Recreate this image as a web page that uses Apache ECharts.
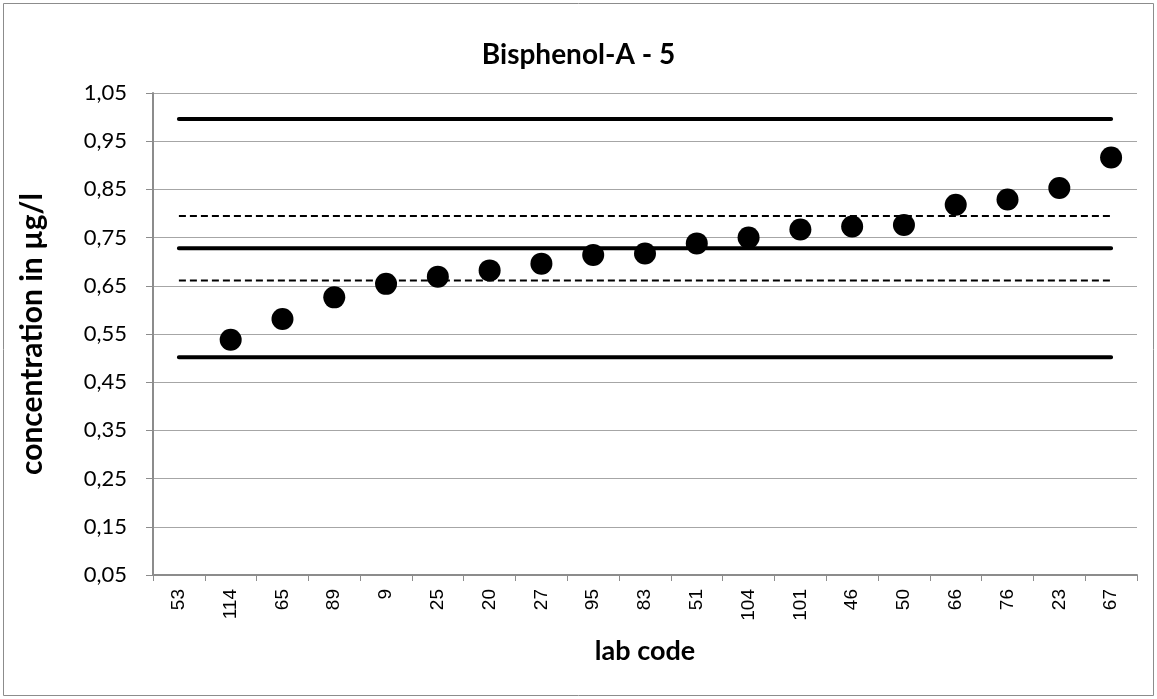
<!DOCTYPE html>
<html>
<head>
<meta charset="utf-8">
<script src="https://cdn.jsdelivr.net/npm/echarts@6/dist/echarts.min.js"></script>
<style>
  html, body { margin: 0; padding: 0; background: #fff; }
  #main { width: 1157px; height: 699px; }
</style>
</head>
<body>
<div id="main"></div>
<script>
// lab codes along the x axis
const labCodes = ['53', '114', '65', '89', '9', '25', '20', '27', '95', '83', '51', '104', '101', '46', '50', '66', '76', '23', '67'];
// measured concentrations (lab 53 has no point in range)
const concentrations = [null, 0.538, 0.581, 0.626, 0.654, 0.669, 0.682, 0.696, 0.714, 0.717, 0.738, 0.750, 0.767, 0.773, 0.776, 0.818, 0.829, 0.853, 0.916];
// reference lines
const assignedValue = 0.728;
const upperLimit = 0.996;
const lowerLimit = 0.502;
const upperDashed = 0.795;
const lowerDashed = 0.661;

const chart = echarts.init(document.getElementById('main'));

const flat = v => labCodes.map(() => v);
const solidStyle = { color: '#000', width: 4, cap: 'round' };
const dashStyle = { color: '#000', width: 2, type: [7, 4] };

function refLine(name, value, style) {
  return {
    name: name,
    type: 'line',
    data: flat(value),
    symbol: 'none',
    lineStyle: style,
    silent: true,
    z: 2
  };
}

const option = {
  animation: false,
  backgroundColor: '#fff',
  title: {
    text: 'Bisphenol-A - 5',
    left: 'center',
    top: 36,
    textStyle: { fontFamily: 'Lato', fontSize: 28, fontWeight: 'bold', color: '#000' }
  },
  graphic: [{
    type: 'rect',
    shape: { x: 3.5, y: 3.5, width: 1150, height: 692 },
    style: { fill: 'none', stroke: '#8c8c8c', lineWidth: 1 },
    silent: true
  }],
  grid: { left: 153, right: 20, top: 93, bottom: 124 },
  xAxis: {
    type: 'category',
    data: labCodes,
    boundaryGap: true,
    name: 'lab code',
    nameLocation: 'middle',
    nameGap: 63,
    nameTextStyle: { fontFamily: 'Lato', fontSize: 27, fontWeight: 'bold', color: '#000' },
    axisLine: { lineStyle: { color: '#8c8c8c', width: 2 } },
    axisTick: { show: true, length: 6, lineStyle: { color: '#8c8c8c' } },
    axisLabel: {
      rotate: 90,
      interval: 0,
      margin: 14,
      fontFamily: 'Liberation Sans',
      fontSize: 19,
      color: '#000'
    },
    splitLine: { show: false }
  },
  yAxis: {
    type: 'value',
    min: 0.05,
    max: 1.05,
    interval: 0.1,
    name: 'concentration in µg/l',
    nameLocation: 'middle',
    nameGap: 106,
    nameTextStyle: { fontFamily: 'Lato', fontSize: 30, fontWeight: 'bold', color: '#000' },
    axisLine: { show: true, lineStyle: { color: '#8c8c8c', width: 2 } },
    axisTick: { show: true, length: 7, lineStyle: { color: '#8c8c8c' } },
    axisLabel: {
      margin: 26,
      fontFamily: 'Lato',
      fontSize: 22,
      color: '#000',
      formatter: v => v.toFixed(2).replace('.', ',')
    },
    splitLine: { show: true, lineStyle: { color: '#a6a6a6', width: 1 } }
  },
  series: [
    refLine('upper limit', upperLimit, solidStyle),
    refLine('upper dashed', upperDashed, dashStyle),
    refLine('assigned value', assignedValue, solidStyle),
    refLine('lower dashed', lowerDashed, dashStyle),
    refLine('lower limit', lowerLimit, solidStyle),
    {
      name: 'labs',
      type: 'scatter',
      data: concentrations,
      symbol: 'circle',
      symbolSize: 22,
      itemStyle: { color: '#000', opacity: 1 },
      z: 5
    }
  ]
};

chart.setOption(option);
</script>
</body>
</html>
